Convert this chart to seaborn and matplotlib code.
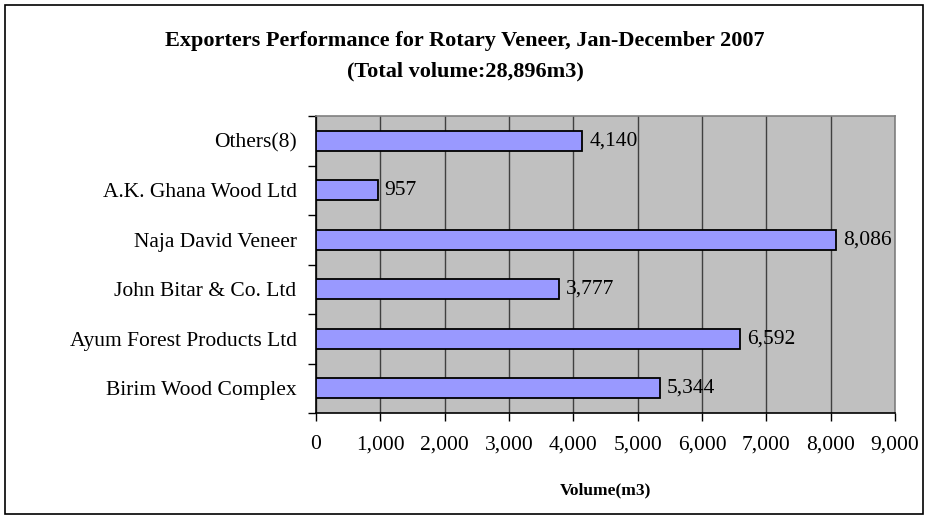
import matplotlib
matplotlib.use("Agg")
import matplotlib.pyplot as plt
import seaborn as sns
import pandas as pd
from matplotlib.patches import Rectangle
from matplotlib.ticker import FuncFormatter, MultipleLocator

categories = ["Others(8)", "A.K. Ghana Wood Ltd", "Naja David Veneer",
              "John Bitar & Co. Ltd", "Ayum Forest Products Ltd", "Birim Wood Complex"]
volumes = [4140, 957, 8086, 3777, 6592, 5344]
title = "Exporters Performance for Rotary Veneer, Jan-December 2007\n(Total volume:28,896m3)"
xlabel = "Volume(m3)"

df = pd.DataFrame({"company": categories, "volume": volumes})

sns.set_theme(style="white")
plt.rcParams["font.family"] = ["Liberation Serif", "DejaVu Serif"]
plt.rcParams["text.color"] = "black"
plt.rcParams["axes.labelcolor"] = "black"
plt.rcParams["xtick.color"] = "black"
plt.rcParams["ytick.color"] = "black"

fig = plt.figure(figsize=(9.28, 5.19), dpi=100)
W, H = 928, 519
ax = fig.add_axes([316 / W, 1 - 413 / H, (895 - 316) / W, (413 - 116) / H])
ax.set_facecolor("#C0C0C0")

sns.barplot(data=df, x="volume", y="company", orient="h", color="#9999FF",
            edgecolor="black", linewidth=1.3, width=0.4, saturation=1, ax=ax, zorder=3)

ax.set_xlim(0, 9000)
ax.set_ylim(len(categories) - 0.5, -0.5)
ax.xaxis.set_major_locator(MultipleLocator(1000))
ax.xaxis.set_major_formatter(FuncFormatter(lambda v, p: f"{int(v):,}"))
ax.grid(axis="x", color="#404040", linewidth=1.0, zorder=1)
ax.set_axisbelow(True)

# y ticks at category boundaries
ax.set_yticks([i - 0.5 for i in range(len(categories) + 1)], minor=False)
ax.set_yticklabels([])
ax.set_yticks(range(len(categories)), minor=True)
ax.set_yticklabels(categories, minor=True)
ax.tick_params(axis="y", which="major", length=6, width=1, color="black", direction="out", left=True)
ax.tick_params(axis="y", which="minor", length=0, pad=14, labelsize=15.5, labelcolor="black")
ax.tick_params(axis="x", length=6, width=1, color="black", direction="out", bottom=True,
               pad=10, labelsize=15.5, labelcolor="black")

for s in ["top", "right"]:
    ax.spines[s].set_color("#808080")
    ax.spines[s].set_linewidth(1.2)
for s in ["left", "bottom"]:
    ax.spines[s].set_color("black")
    ax.spines[s].set_linewidth(1.2)

for i, v in enumerate(volumes):
    ax.annotate(f"{v:,}", xy=(v, i), xytext=(5, 0), textcoords="offset points",
                ha="left", va="center", fontsize=15.5, color="black", zorder=5)

ax.set_ylabel("")
ax.set_xlabel(xlabel, fontsize=12.5, fontweight="bold", labelpad=20, color="black")

fig.text(465 / W, 1 - 56 / H, title, ha="center", va="center", fontsize=16,
         fontweight="bold", linespacing=1.7, color="black")

fig.patches.append(Rectangle((5 / W, 5 / H), (923 - 5) / W, (514 - 5) / H,
                             transform=fig.transFigure, fill=False,
                             edgecolor="black", linewidth=1.2))

fig.savefig("out.png", dpi=100)
